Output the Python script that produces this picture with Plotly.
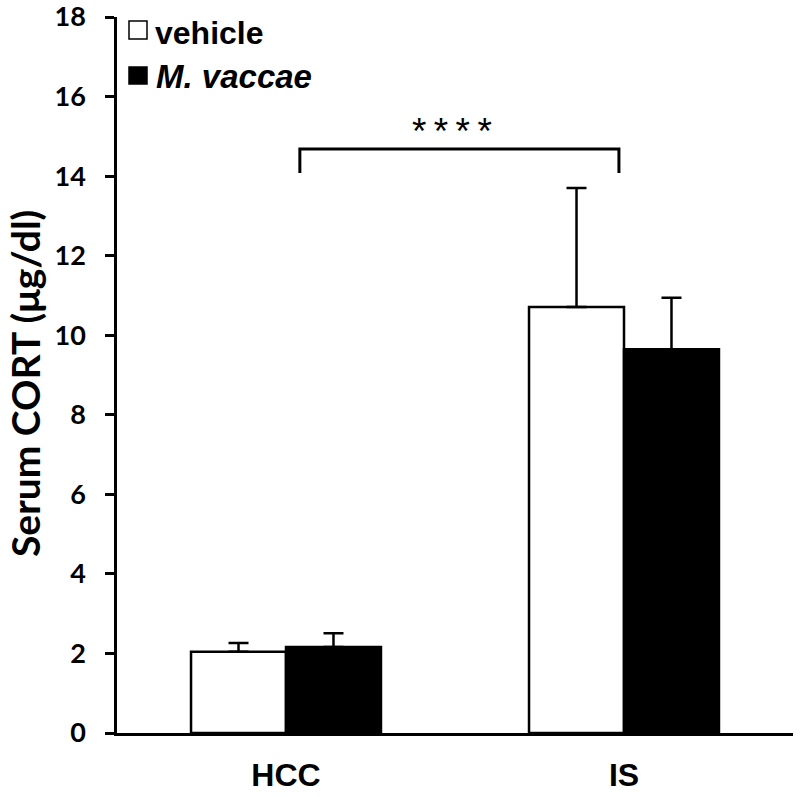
import plotly.graph_objects as go

categories = ["HCC", "IS"]
vehicle = [2.04, 10.71]
vehicle_err = [0.22, 2.99]
mvaccae = [2.16, 9.65]
mvaccae_err = [0.35, 1.29]
y_ticks = [0, 2, 4, 6, 8, 10, 12, 14, 16, 18]
series_names = ["vehicle", "M. vaccae"]

ARIAL = "Arial, Liberation Sans, sans-serif"
CAL = "Lato, Carlito, Calibri, sans-serif"

W, H = 800, 797
L, R, T, B = 117, 7, 17, 64
PW, PH = W - L - R, H - T - B


def px(xp):
    return (xp - L) / PW


def py(yp):
    return (H - B - yp) / PH


fig = go.Figure()
fig.add_trace(go.Bar(
    x=categories, y=vehicle, name=series_names[0], showlegend=False,
    marker=dict(color="white", line=dict(color="black", width=2.5)),
    error_y=dict(type="data", array=vehicle_err, arrayminus=[0, 0], symmetric=False,
                 color="black", thickness=2.5, width=10),
))
fig.add_trace(go.Bar(
    x=categories, y=mvaccae, name=series_names[1], showlegend=False,
    marker=dict(color="black", line=dict(color="black", width=2.5)),
    error_y=dict(type="data", array=mvaccae_err, arrayminus=[0, 0], symmetric=False,
                 color="black", thickness=2.5, width=10),
))

# significance bracket
br_top = 14.68
br_bot = 14.08
fig.add_shape(type="path", xref="x", yref="y",
              path=f"M 0.041 {br_bot} L 0.041 {br_top} L 0.985 {br_top} L 0.985 {br_bot}",
              line=dict(color="black", width=3))
fig.add_annotation(x=0.49, y=br_top + 0.45, xref="x", yref="y", text="*&#8201;*&#8201;*&#8201;*",
                   showarrow=False, yanchor="middle",
                   font=dict(family=ARIAL, size=37, color="black"))

# manual legend
fig.add_shape(type="rect", xref="paper", yref="paper",
              x0=px(129), x1=px(147), y0=py(39), y1=py(21),
              line=dict(color="black", width=1.5), fillcolor="white")
fig.add_shape(type="rect", xref="paper", yref="paper",
              x0=px(129), x1=px(147), y0=py(84), y1=py(67),
              line=dict(color="black", width=1.5), fillcolor="black")
fig.add_annotation(x=px(153), y=py(33), xref="paper", yref="paper",
                   text=f"<b>{series_names[0]}</b>", showarrow=False,
                   xanchor="left", yanchor="middle",
                   font=dict(family=ARIAL, size=32, color="black"))
fig.add_annotation(x=px(154), y=py(77), xref="paper", yref="paper",
                   text=f"<b><i>{series_names[1]}</i></b>", showarrow=False,
                   xanchor="left", yanchor="middle",
                   font=dict(family=ARIAL, size=33, color="black"))

# y-axis title
fig.add_annotation(x=px(25), y=py(384), xref="paper", yref="paper",
                   text="<b>Serum CORT (μg/dl)</b>", showarrow=False, textangle=-90,
                   xanchor="center", yanchor="middle",
                   font=dict(family=CAL, size=39, color="black"))

fig.update_layout(
    width=W, height=H,
    margin=dict(l=L, r=R, t=T, b=B, autoexpand=False),
    paper_bgcolor="white", plot_bgcolor="white",
    barmode="group", bargap=0.438, bargroupgap=0,
    font=dict(family=ARIAL, color="black"),
    showlegend=False,
)
fig.update_xaxes(
    showline=True, linecolor="black", linewidth=2.5,
    ticks="", showgrid=False, zeroline=False,
    tickfont=dict(family=ARIAL, size=32, color="black"),
    tickvals=categories, ticktext=[f"<b>{c}</b>" for c in categories],
    ticklabelstandoff=12,
)
fig.update_yaxes(
    range=[0, 18], tickvals=y_ticks, ticktext=[f"<b>{t}</b>" for t in y_ticks],
    showline=True, linecolor="black", linewidth=2.5,
    ticks="outside", ticklen=9, tickwidth=2.5, tickcolor="black",
    showgrid=False, zeroline=False,
    tickfont=dict(family=CAL, size=27, color="black"),
    ticklabelstandoff=14, ticklabeloverflow="allow",
)

fig.write_html("out.html", config={"displayModeBar": False},
               post_script="document.body.style.margin='0';")
